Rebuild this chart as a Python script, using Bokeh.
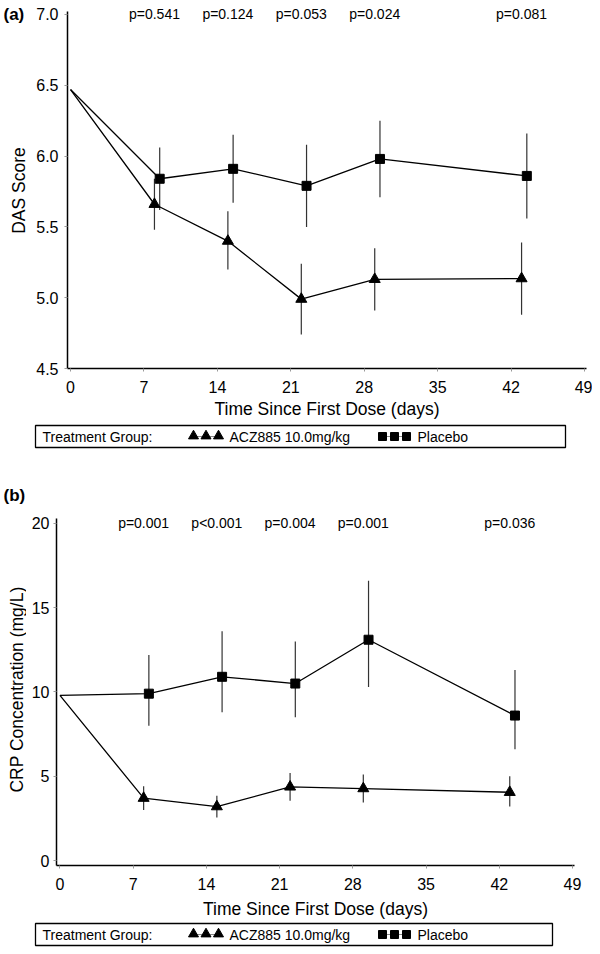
import math
from bokeh.plotting import figure
from bokeh.layouts import column, row
from bokeh.models import Range1d, FixedTicker, PrintfTickFormatter, LabelSet, ColumnDataSource
from bokeh.embed import file_html
from bokeh.resources import INLINE
from bokeh.core.properties import value

FONT = "Liberation Sans"

# ---------------- data ----------------
x_ticks = [0, 7, 14, 21, 28, 35, 42, 49]
acz_days = [8, 15, 22, 29, 43]
pbo_days = [8.5, 15.5, 22.5, 29.5, 43.5]
p_days = [8, 15, 22, 29, 43]

das_ticks = [4.5, 5.0, 5.5, 6.0, 6.5, 7.0]
das_baseline = 6.47
das_acz = [5.66, 5.40, 4.99, 5.13, 5.135]
das_acz_lo = [5.48, 5.20, 4.74, 4.91, 4.88]
das_acz_hi = [5.84, 5.61, 5.24, 5.35, 5.39]
das_pbo = [5.84, 5.91, 5.79, 5.98, 5.86]
das_pbo_lo = [5.62, 5.67, 5.50, 5.71, 5.56]
das_pbo_hi = [6.06, 6.15, 6.08, 6.25, 6.16]
das_p = ["p=0.541", "p=0.124", "p=0.053", "p=0.024", "p=0.081"]

crp_ticks = [0, 5, 10, 15, 20]
crp_baseline = 9.8
crp_acz = [3.7, 3.2, 4.37, 4.27, 4.05]
crp_acz_lo = [3.0, 2.55, 3.55, 3.45, 3.2]
crp_acz_hi = [4.4, 3.85, 5.2, 5.1, 5.0]
crp_pbo = [9.9, 10.9, 10.5, 13.1, 8.6]
crp_pbo_lo = [8.0, 8.8, 8.5, 10.3, 6.6]
crp_pbo_hi = [12.2, 13.6, 13.0, 16.6, 11.3]
crp_p = ["p=0.001", "p<0.001", "p=0.004", "p=0.001", "p=0.036"]

x_title = "Time Since First Dose (days)"
das_title = "DAS Score"
crp_title = "CRP Concentration (mg/L)"
legend_title = "Treatment Group:"
legend_acz = "ACZ885 10.0mg/kg"
legend_pbo = "Placebo"

TOTAL_W = 592


def make_panel(width, height, xr, yr, ybounds, borders, yticks, yfmt, base, acz, acz_lo, acz_hi,
               pbo, pbo_lo, pbo_hi, ptexts, ptext_y, ytick_standoff, xtick_standoff, xlab_standoff):
    l, r, t, b = borders
    p = figure(width=width, height=height, x_range=Range1d(*xr), y_range=Range1d(*yr),
               min_border_left=l, min_border_right=r, min_border_top=t, min_border_bottom=b,
               toolbar_location=None, output_backend="svg", frame_align=False)
    p.grid.visible = False
    p.outline_line_color = None
    p.background_fill_color = "white"

    for ax in (p.xaxis[0], p.yaxis[0]):
        ax.axis_line_color = "black"
        ax.axis_line_width = 1.5
        ax.major_tick_line_color = "#999999"
        ax.major_tick_out = 3
        ax.major_tick_in = 0
        ax.minor_tick_line_color = None
        ax.major_label_text_font = FONT
        ax.major_label_text_font_size = "16px"
        ax.major_label_text_color = "black"
        ax.axis_label_text_font = FONT
        ax.axis_label_text_font_size = "17.5px"
        ax.axis_label_text_font_style = "normal"
        ax.axis_label_text_color = "black"

    p.xaxis.ticker = FixedTicker(ticks=x_ticks)
    p.xaxis.axis_label = x_title
    p.xaxis.major_label_standoff = xtick_standoff
    p.xaxis.axis_label_standoff = xlab_standoff

    p.yaxis.ticker = FixedTicker(ticks=yticks)
    p.yaxis.formatter = PrintfTickFormatter(format=yfmt)
    p.yaxis.major_label_standoff = ytick_standoff
    p.yaxis.bounds = ybounds

    # error bars
    p.segment(x0=acz_days, x1=acz_days, y0=acz_lo, y1=acz_hi, line_color="#333333", line_width=1.2)
    p.segment(x0=pbo_days, x1=pbo_days, y0=pbo_lo, y1=pbo_hi, line_color="#333333", line_width=1.2)

    # lines from baseline
    p.line(x=[0] + acz_days, y=[base] + acz, line_color="black", line_width=1.3)
    p.line(x=[0] + pbo_days, y=[base] + pbo, line_color="black", line_width=1.3)

    # markers
    p.scatter(x=acz_days, y=acz, marker="triangle", size=11, fill_color="black", line_color="black")
    p.scatter(x=pbo_days, y=pbo, marker="square", size=9, fill_color="black", line_color="black")

    src = ColumnDataSource(dict(x=p_days, y=[ptext_y] * len(p_days), t=ptexts))
    p.add_layout(LabelSet(x="x", y="y", text="t", source=src, text_align="center",
                          text_baseline="middle", text_font=value(FONT), text_font_size="14px",
                          text_color="black"))
    return p


def make_tag(width, height, tag, tag_y_from_top, ytitle, ytitle_x, ytitle_y_from_top):
    t = figure(width=width, height=height, x_range=Range1d(0, width), y_range=Range1d(0, height),
               min_border=0, x_axis_type=None, y_axis_type=None, toolbar_location=None,
               output_backend="svg", frame_align=False)
    t.grid.visible = False
    t.outline_line_color = None
    t.text(x=[3], y=[height - tag_y_from_top], text=[tag], text_font=value(FONT),
           text_font_size="17px", text_font_style="bold", text_baseline="middle",
           text_align="left", text_color="black")
    t.text(x=[ytitle_x], y=[height - ytitle_y_from_top], text=[ytitle], angle=math.pi / 2,
           text_font=value(FONT), text_font_size="17.5px", text_baseline="middle",
           text_align="center", text_color="black")
    return t


def make_legend(height, borders, fw):
    l, r, t, b = borders
    lf = figure(width=TOTAL_W, height=height, x_range=Range1d(0, fw), y_range=Range1d(0, 22),
                min_border_left=l, min_border_right=r, min_border_top=t, min_border_bottom=b,
                x_axis_type=None, y_axis_type=None, toolbar_location=None, output_backend="svg",
                frame_align=False)
    lf.grid.visible = False
    lf.outline_line_color = "black"
    lf.outline_line_width = 1.3
    tri_x = [158, 170.5, 183]
    sq_x = [347, 359, 371]
    lf.line(x=[tri_x[0], tri_x[-1]], y=[11, 11], line_color="#888888", line_width=1)
    lf.line(x=[sq_x[0], sq_x[-1]], y=[11, 11], line_color="#888888", line_width=1)
    lf.scatter(x=tri_x, y=[11.5] * 3, marker="triangle", size=10, fill_color="black", line_color="black")
    lf.scatter(x=sq_x, y=[11] * 3, marker="square", size=8, fill_color="black", line_color="black")
    lf.text(x=[7, 194, 382], y=[11, 11, 11], text=[legend_title, legend_acz, legend_pbo],
            text_font=value(FONT), text_font_size="14px", text_baseline="middle",
            text_align="left", text_color="black")
    return lf


# panel (a): page rows 0..421, frame x 67..586, y 4..368
TAG_A = 31
pa = make_panel(TOTAL_W - TAG_A, 421, (-0.29, 49.19), (4.5, 7.0706), (4.5, 7.02), (36, 6, 4, 53),
                das_ticks, "%.1f", das_baseline, das_acz, das_acz_lo, das_acz_hi,
                das_pbo, das_pbo_lo, das_pbo_hi, das_p, 7.0, 6, 9, 3)
ta = make_tag(TAG_A, 421, "(a)", 14, das_title, 18, 190)
la = make_legend(30, (35, 27, 4, 4), 530)

# panel (b): page rows 451..921, frame x 56..574, y 510..867
TAG_B = 26
pb = make_panel(TOTAL_W - TAG_B, 470, (-0.33, 49.19), (-0.295, 20.767), (-0.295, 20.3), (30, 18, 59, 54),
                crp_ticks, "%d", crp_baseline, crp_acz, crp_acz_lo, crp_acz_hi,
                crp_pbo, crp_pbo_lo, crp_pbo_hi, crp_p, 20.0, 4, 9, 6)
tb = make_tag(TAG_B, 470, "(b)", 44, crp_title, 16.5, 238)
lb = make_legend(27, (35, 40, 2, 3), 517)

layout = column(row(ta, pa, spacing=0), la, row(tb, pb, spacing=0), lb, spacing=0)
open("out.html", "w").write(file_html(layout, INLINE))
